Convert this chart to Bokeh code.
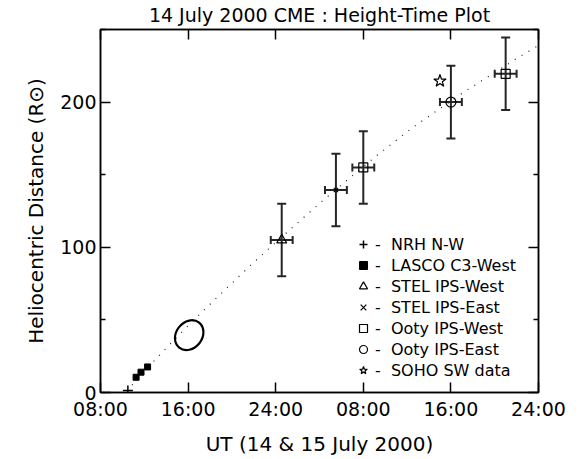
from bokeh.plotting import figure
from bokeh.models import (FixedTicker, Whisker, TeeHead, ColumnDataSource, Legend,
                          LegendItem, Range1d, LinearAxis, CustomLabelingPolicy)
from bokeh.embed import file_html
from bokeh.resources import INLINE

# ---- data (time in hours since 00:00 UT, 14 July 2000; distance in solar radii)
nrh_t = [10.5]
nrh_r = [1.4]
lasco_t = [11.25, 11.7, 12.3]
lasco_r = [10.5, 14.0, 17.6]
stel_w_t = [24.55]
stel_w_r = [105.0]
stel_e_t = [29.5]
stel_e_r = [139.5]
ooty_w_t = [32.0, 45.0]
ooty_w_r = [155.0, 219.5]
ooty_e_t = [40.0]
ooty_e_r = [200.0]
ooty_ring_t = [16.1]
ooty_ring_r = [39.5]
soho_t = [39.0]
soho_r = [214.5]
err_r = 25.0   # distance uncertainty of IPS points
err_t = 1.0    # time uncertainty of IPS points (h)

fit_t = [10.4, 12.3, 14.5, 16.8, 19.2, 21.9, 25.8, 28.2, 30.8, 33.2, 36.6, 41.3, 43.4, 46.1, 48.0]
fit_r = [1.0, 17.0, 34.5, 52.0, 69.5, 89.0, 115.5, 131.5, 148.0, 163.0, 183.0, 207.5, 217.5, 230.5, 239.0]

x_ticks = [8, 16, 24, 32, 40, 48]
x_labels = ["08:00", "16:00", "24:00", "08:00", "16:00", "24:00"]
y_ticks = [0, 100, 200]
y_minor = [50, 150, 250]

FONT = "DejaVu Sans"

p = figure(width=581, height=459, output_backend="svg", toolbar_location=None,
           x_range=Range1d(8, 48), y_range=Range1d(0, 250),
           min_border_left=100, min_border_right=43, min_border_top=29, min_border_bottom=67)
p.background_fill_color = "white"
p.border_fill_color = "white"
p.outline_line_color = "black"
p.outline_line_width = 1.5
p.grid.visible = False

p.title.text = "14 July 2000 CME : Height-Time Plot"
p.title.align = "center"
p.title.text_font = FONT
p.title.text_font_size = "19px"
p.title.text_font_style = "normal"
p.title.text_color = "black"
p.title.standoff = 0
p.title.offset = 0

xt = FixedTicker(ticks=x_ticks, minor_ticks=[])
yt = FixedTicker(ticks=y_ticks, minor_ticks=y_minor)
overrides = {t: l for t, l in zip(x_ticks, x_labels)}
no_labels = CustomLabelingPolicy(code="return new Set()")


def style_axis(ax, show_labels):
    ax.axis_line_color = "black"
    ax.axis_line_width = 1.5
    ax.major_tick_in = 10
    ax.major_tick_out = 0
    ax.minor_tick_in = 5
    ax.minor_tick_out = 0
    ax.major_tick_line_color = "black"
    ax.minor_tick_line_color = "black"
    ax.major_tick_line_width = 1.5
    ax.minor_tick_line_width = 1.5
    ax.major_label_text_font = FONT
    ax.major_label_text_color = "black"
    ax.axis_label_text_font = FONT
    ax.axis_label_text_font_style = "normal"
    ax.axis_label_text_color = "black"
    if not show_labels:
        ax.major_label_policy = no_labels
        ax.major_label_standoff = 0
        ax.major_label_text_font_size = "1px"


xa = p.xaxis[0]
xa.ticker = xt
xa.major_label_overrides = overrides
style_axis(xa, True)
xa.major_label_text_font_size = "19px"
xa.major_label_standoff = 5
xa.axis_label = "UT (14 & 15 July 2000)"
xa.axis_label_text_font_size = "20px"
xa.axis_label_standoff = 9

ya = p.yaxis[0]
ya.ticker = yt
style_axis(ya, True)
ya.major_label_text_font_size = "19px"
ya.major_label_standoff = 4
ya.axis_label = "Heliocentric Distance (R\u2299)"
ya.axis_label_text_font_size = "20px"
ya.axis_label_standoff = 9

top = LinearAxis(ticker=xt)
style_axis(top, False)
p.add_layout(top, "above")
right = LinearAxis(ticker=yt)
style_axis(right, False)
p.add_layout(right, "right")

# dotted fit line
p.line(fit_t, fit_r, line_color="#222222", line_width=1.2, line_dash="1 7")

# error bars of IPS points
eb_t = stel_w_t + stel_e_t + ooty_w_t + ooty_e_t
eb_r = stel_w_r + stel_e_r + ooty_w_r + ooty_e_r
src = ColumnDataSource(dict(
    t=eb_t, r=eb_r,
    r_lo=[v - err_r for v in eb_r], r_hi=[v + err_r for v in eb_r],
    t_lo=[v - err_t for v in eb_t], t_hi=[v + err_t for v in eb_t]))
ecol = "#262626"
p.add_layout(Whisker(source=src, base="t", lower="r_lo", upper="r_hi", dimension="height",
                     line_color=ecol, line_width=2,
                     lower_head=TeeHead(size=9, line_color=ecol, line_width=2),
                     upper_head=TeeHead(size=9, line_color=ecol, line_width=2)))
p.add_layout(Whisker(source=src, base="r", lower="t_lo", upper="t_hi", dimension="width",
                     line_color=ecol, line_width=2,
                     lower_head=TeeHead(size=8, line_color=ecol, line_width=2),
                     upper_head=TeeHead(size=8, line_color=ecol, line_width=2)))

# markers
r_nrh = p.scatter(nrh_t, nrh_r, marker="cross", size=10, line_color="black", line_width=1.5)
r_lasco = p.scatter(lasco_t, lasco_r, marker="square", size=6, fill_color="black", line_color="black")
r_sw = p.scatter(stel_w_t, stel_w_r, marker="triangle", size=10, fill_color=None,
                 line_color="black", line_width=1.2)
r_se = p.scatter(stel_e_t, stel_e_r, marker="x", size=6, line_color="black", line_width=1.2)
r_ow = p.scatter(ooty_w_t, ooty_w_r, marker="square", size=9, fill_color=None,
                 line_color="black", line_width=1.2)
r_oe = p.scatter(ooty_e_t, ooty_e_r, marker="circle", size=10, fill_color=None,
                 line_color="black", line_width=1.2)
p.ellipse(ooty_ring_t, ooty_ring_r, width=32, height=26, angle=0.9,
          width_units="screen", height_units="screen",
          fill_color=None, line_color="black", line_width=2.2)
r_soho = p.scatter(soho_t, soho_r, marker="star", size=13, fill_color=None,
                   line_color="black", line_width=1.2)

legend = Legend(items=[
    LegendItem(label="-  NRH N-W", renderers=[r_nrh]),
    LegendItem(label="-  LASCO C3-West", renderers=[r_lasco]),
    LegendItem(label="-  STEL IPS-West", renderers=[r_sw]),
    LegendItem(label="-  STEL IPS-East", renderers=[r_se]),
    LegendItem(label="-  Ooty IPS-West", renderers=[r_ow]),
    LegendItem(label="-  Ooty IPS-East", renderers=[r_oe]),
    LegendItem(label="-  SOHO SW data", renderers=[r_soho]),
], location=(253, 12))
legend.background_fill_alpha = 0
legend.border_line_alpha = 0
legend.padding = 0
legend.margin = 0
legend.spacing = 1
legend.glyph_width = 20
legend.glyph_height = 20
legend.label_height = 20
legend.label_standoff = 2
legend.label_text_font = FONT
legend.label_text_font_size = "16px"
legend.label_text_color = "black"
p.add_layout(legend)

open("out.html", "w").write(file_html(p, INLINE))
